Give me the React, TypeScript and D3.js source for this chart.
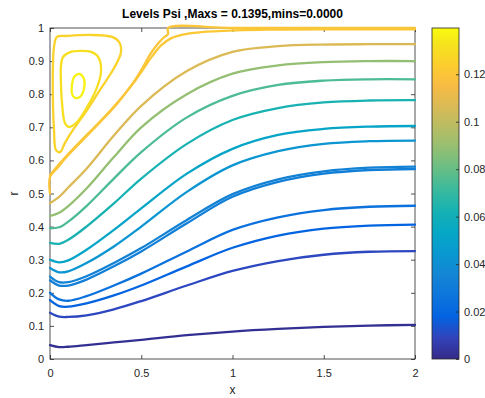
import React, { useEffect, useRef } from "react";
import * as d3 from "d3";

const xStations = [0, 0.05, 0.1, 0.2, 0.35, 0.5, 0.75, 1.0, 1.25, 1.5, 1.75, 2.0];

// open streamlines, bottom to top
const streamLevels = [0.002, 0.01, 0.018, 0.025, 0.032, 0.034, 0.043, 0.052, 0.063, 0.075, 0.089, 0.107];
const rNavy = [0.042, 0.036, 0.037, 0.042, 0.05, 0.058, 0.072, 0.083, 0.091, 0.097, 0.101, 0.103];
const rIndigo = [0.14, 0.128, 0.127, 0.132, 0.15, 0.175, 0.222, 0.266, 0.296, 0.315, 0.324, 0.326];
const rBlue1 = [0.178, 0.16, 0.158, 0.168, 0.192, 0.222, 0.28, 0.336, 0.373, 0.394, 0.403, 0.406];
const rBlue2 = [0.2, 0.18, 0.176, 0.19, 0.222, 0.258, 0.325, 0.39, 0.428, 0.45, 0.46, 0.463];
const rBlue3a = [0.238, 0.222, 0.222, 0.24, 0.28, 0.325, 0.41, 0.49, 0.535, 0.56, 0.571, 0.574];
const rBlue3b = [0.249, 0.232, 0.232, 0.25, 0.29, 0.335, 0.42, 0.498, 0.543, 0.567, 0.578, 0.581];
const rSky = [0.275, 0.262, 0.265, 0.29, 0.34, 0.4, 0.505, 0.585, 0.628, 0.65, 0.658, 0.66];
const rCyan = [0.3, 0.292, 0.298, 0.33, 0.39, 0.455, 0.56, 0.635, 0.677, 0.695, 0.702, 0.704];
const rTeal = [0.351, 0.348, 0.36, 0.4, 0.47, 0.545, 0.65, 0.722, 0.758, 0.775, 0.781, 0.782];
const rGreen = [0.395, 0.398, 0.415, 0.462, 0.545, 0.625, 0.73, 0.795, 0.828, 0.841, 0.845, 0.845];
const rOlive = [0.432, 0.442, 0.462, 0.515, 0.61, 0.7, 0.8, 0.862, 0.887, 0.897, 0.9, 0.9];
const rTan = [0.471, 0.49, 0.518, 0.575, 0.675, 0.765, 0.87, 0.928, 0.945, 0.95, 0.951, 0.951];
const streamRows = [rNavy, rIndigo, rBlue1, rBlue2, rBlue3a, rBlue3b, rSky, rCyan, rTeal, rGreen, rOlive, rTan];

// dividing streamlines near the upper wall
const wallLevels = [0.12, 0.121];
const wallAx = [0, 0, 0.04, 0.09, 0.18, 0.27, 0.37, 0.455, 0.51, 0.55, 0.59, 0.625, 0.647, 0.647, 1.0, 1.5, 2.0];
const wallAr = [0.5, 0.55, 0.577, 0.61, 0.662, 0.713, 0.773, 0.834, 0.882, 0.922, 0.952, 0.972, 0.982, 1.0, 1.0, 1.0, 1.0];
const wallBx = [0, 0.04, 0.09, 0.18, 0.27, 0.37, 0.455, 0.51, 0.56, 0.61, 0.66, 0.75, 0.9, 1.2, 1.6, 2.0];
const wallBr = [0.555, 0.582, 0.613, 0.665, 0.715, 0.775, 0.832, 0.875, 0.915, 0.948, 0.968, 0.982, 0.99, 0.995, 0.996, 0.996];

// recirculation bubble
const loopLevels = [0.126, 0.131, 0.137];
const outerX = [0.038, 0.093, 0.219, 0.34, 0.378, 0.389, 0.351, 0.274, 0.203, 0.126, 0.082, 0.055, 0.033, 0.022, 0.016, 0.016, 0.022];
const outerR = [0.973, 0.976, 0.979, 0.973, 0.958, 0.927, 0.879, 0.813, 0.752, 0.692, 0.653, 0.625, 0.631, 0.692, 0.782, 0.882, 0.943];
const midX = [0.071, 0.11, 0.164, 0.23, 0.268, 0.279, 0.252, 0.203, 0.148, 0.104, 0.082, 0.066, 0.06, 0.06];
const midR = [0.912, 0.927, 0.931, 0.927, 0.909, 0.864, 0.813, 0.761, 0.716, 0.701, 0.713, 0.773, 0.837, 0.885];
const innerX = [0.132, 0.164, 0.186, 0.186, 0.164, 0.137, 0.121, 0.121];
const innerR = [0.852, 0.861, 0.846, 0.816, 0.792, 0.789, 0.801, 0.831];

const xTicks = [0, 0.5, 1, 1.5, 2];
const rTicks = [0, 0.1, 0.2, 0.3, 0.4, 0.5, 0.6, 0.7, 0.8, 0.9, 1];
const cbTicks = [0, 0.02, 0.04, 0.06, 0.08, 0.1, 0.12];
const cbLabels = ["0", "0.02", "0.04", "0.06", "0.08", "0.1", "0.12"];
const psiMax = 0.1395;

// parula, sampled
const parula = ["#352a87", "#3243ba", "#0363e1", "#0d75dc", "#1485d4", "#0998d1", "#06a7c6", "#15b1b4",
  "#38b99e", "#65be86", "#92bf73", "#b7bd64", "#d9ba56", "#f8bb44", "#fcce2e", "#f5e41d", "#f9fb0e"];

const App = () => {
  const ref = useRef<SVGSVGElement>(null);

  useEffect(() => {
    const svg = d3.select(ref.current);
    svg.selectAll("*").remove();

    const x = d3.scaleLinear().domain([0, 2]).range([50, 415]);
    const y = d3.scaleLinear().domain([0, 1]).range([359, 28]);
    const cy = d3.scaleLinear().domain([0, psiMax]).range([359, 28]);
    const stops = parula.map((_, i) => (i === parula.length - 1 ? 1 : (i * 4) / 63));
    const cmap = d3.scaleLinear<string>().domain(stops).range(parula).interpolate(d3.interpolateRgb);
    const color = (v: number) => cmap(v / psiMax);
    const font = "'Liberation Sans', Arial, sans-serif";
    const ink = "#262626";

    // plot box
    svg.append("rect").attr("x", 50).attr("y", 28).attr("width", 365).attr("height", 331)
      .attr("fill", "white").attr("stroke", ink).attr("stroke-width", 0.8);

    const styleAxis = (g: any) => {
      g.select(".domain").remove();
      g.selectAll("line").attr("stroke", ink).attr("stroke-width", 0.8);
      g.selectAll("text").attr("fill", ink).style("font-family", font).style("font-size", "11px");
    };

    svg.append("g").attr("transform", "translate(0,359)")
      .call(d3.axisBottom(x).tickValues(xTicks).tickFormat(d3.format("")).tickSize(-4).tickPadding(10))
      .call(styleAxis);
    svg.append("g").attr("transform", "translate(0,28)")
      .call(d3.axisTop(x).tickValues(xTicks).tickFormat(() => "").tickSize(-4))
      .call(styleAxis);
    svg.append("g").attr("transform", "translate(50,0)")
      .call(d3.axisLeft(y).tickValues(rTicks).tickFormat(d3.format("")).tickSize(-4).tickPadding(6))
      .call(styleAxis);
    svg.append("g").attr("transform", "translate(415,0)")
      .call(d3.axisRight(y).tickValues(rTicks).tickFormat(() => "").tickSize(-4))
      .call(styleAxis);

    // contour lines
    const open = d3.line<[number, number]>().x((d) => x(d[0])).y((d) => y(d[1]))
      .curve(d3.curveCatmullRom.alpha(0.5));
    const closed = d3.line<[number, number]>().x((d) => x(d[0])).y((d) => y(d[1]))
      .curve(d3.curveCatmullRomClosed.alpha(0.5));
    const lines = svg.append("g").attr("fill", "none").attr("stroke-width", 2.3)
      .attr("stroke-linejoin", "round").attr("stroke-linecap", "round");

    streamRows.forEach((rs, i) => {
      lines.append("path")
        .attr("d", open(xStations.map((xv, j) => [xv, rs[j]] as [number, number])))
        .attr("stroke", color(streamLevels[i]));
    });
    [[wallBx, wallBr], [wallAx, wallAr]].forEach(([xs, rs], i) => {
      lines.append("path")
        .attr("d", open(xs.map((xv, j) => [xv, rs[j]] as [number, number])))
        .attr("stroke", color(wallLevels[1 - i]));
    });
    [[outerX, outerR], [midX, midR], [innerX, innerR]].forEach(([xs, rs], i) => {
      lines.append("path")
        .attr("d", closed(xs.map((xv, j) => [xv, rs[j]] as [number, number])))
        .attr("stroke", color(loopLevels[i]));
    });

    // labels
    svg.append("text").attr("x", 232.5).attr("y", 18).attr("text-anchor", "middle")
      .style("font-family", font).style("font-size", "12px").style("font-weight", "bold")
      .attr("fill", "black").text("Levels Psi ,Maxs = 0.1395,mins=0.0000");
    svg.append("text").attr("x", 232.5).attr("y", 394).attr("text-anchor", "middle")
      .style("font-family", font).style("font-size", "12px").attr("fill", ink).text("x");
    svg.append("text").attr("transform", "translate(18,193.5) rotate(-90)").attr("text-anchor", "middle")
      .style("font-family", font).style("font-size", "12px").attr("fill", ink).text("r");

    // colorbar
    const grad = svg.append("defs").append("linearGradient").attr("id", "cbar")
      .attr("x1", 0).attr("y1", 1).attr("x2", 0).attr("y2", 0);
    parula.forEach((c, i) => {
      grad.append("stop").attr("offset", stops[i]).attr("stop-color", c);
    });
    svg.append("rect").attr("x", 432).attr("y", 28).attr("width", 27).attr("height", 331)
      .attr("fill", "url(#cbar)").attr("stroke", ink).attr("stroke-width", 0.8);
    svg.append("g").attr("transform", "translate(459,0)")
      .call(d3.axisRight(cy).tickValues(cbTicks).tickFormat((_: any, i: number) => cbLabels[i])
        .tickSize(-3).tickPadding(5))
      .call(styleAxis);
  }, []);

  return (
    <svg ref={ref} width={485} height={398}
      style={{ position: "absolute", left: 0, top: 0, background: "white" }} />
  );
};

export default App;
